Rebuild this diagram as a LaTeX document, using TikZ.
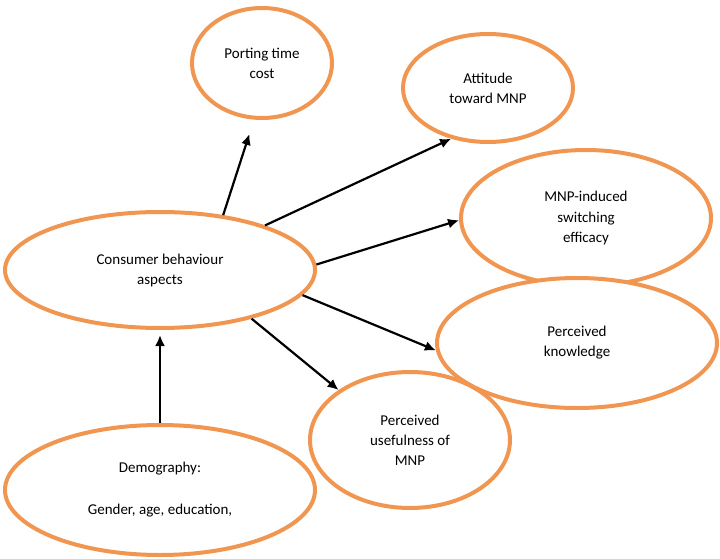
\documentclass[tikz,border=0pt]{standalone}
\usepackage{fontspec}
\setmainfont{Carlito}
\usetikzlibrary{shapes.geometric,arrows.meta}
\definecolor{orng}{RGB}{240,150,80}
\tikzset{
  oval/.style={ellipse,draw=orng,line width=4pt,fill=white,inner sep=0pt,align=center,font=\fontsize{15}{20}\selectfont},
  conn/.style={-{Latex[length=11pt,width=10pt]},line width=2.2pt,black}
}
\begin{document}
\begin{tikzpicture}[x=1pt,y=-1pt]
\useasboundingbox (0,0) rectangle (720,559);
\node[oval,minimum width=140pt,minimum height=110pt] (port) at (262,63) {Porting time\\cost};
\node[oval,minimum width=170pt,minimum height=108pt] (att) at (488,88) {Attitude\\toward MNP};
\node[oval,minimum width=250pt,minimum height=136pt] (mnp) at (586,218) {MNP-induced\\switching\\efficacy};
\node[oval,minimum width=280pt,minimum height=130pt] (know) at (577,343) {Perceived\\knowledge};
\node[oval,minimum width=310pt,minimum height=116pt] (cons) at (160,270) {Consumer behaviour\\aspects};
\node[oval,minimum width=200pt,minimum height=136pt] (use) at (410,440) {Perceived\\usefulness of\\MNP};
\node[oval,minimum width=310pt,minimum height=130pt] (dem) at (160,490) {Demography:\\[22pt]Gender, age, education,};
\draw[conn,shorten >=15pt] (cons.41) -- (port.-98);
\draw[conn] (cons.23) -- (att.-126);
\draw[conn] (cons.2) -- (mnp.181);
\draw[conn] (cons.-10) -- (know.183);
\draw[conn] (cons.-28) -- (use.145);
\draw[conn,shorten >=5pt] (dem.90) -- (cons.-90);
\end{tikzpicture}
\end{document}
